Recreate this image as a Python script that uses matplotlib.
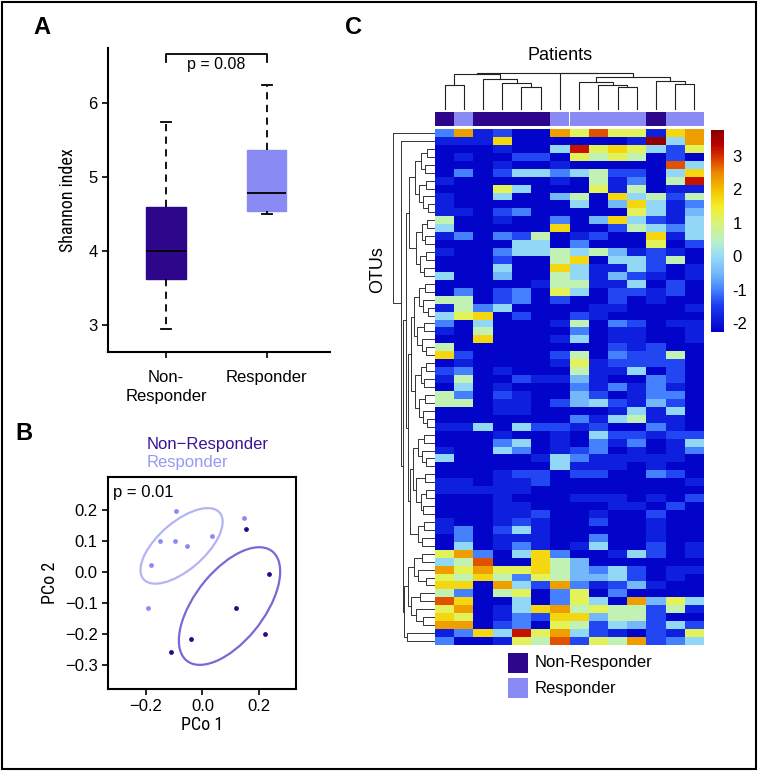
import numpy as np
import matplotlib
matplotlib.use("Agg")
import matplotlib.pyplot as plt
from matplotlib.colors import LinearSegmentedColormap
from matplotlib.patches import Rectangle, Ellipse
from matplotlib.cm import ScalarMappable
from matplotlib.colors import Normalize
from matplotlib import font_manager

plt.rcParams['font.family'] = ['Liberation Sans', 'DejaVu Sans']

# a condensed face for the axis titles, if one is installed
names = {f.name for f in font_manager.fontManager.ttflist}
NARROW = [n for n in ['Liberation Sans Narrow', 'DejaVu Sans Condensed', 'Roboto Condensed'] if n in names]
NARROW = NARROW + ['DejaVu Sans']

W, H = 760, 771
NR_COL = '#2d068c'
R_COL = '#8a8af5'

# ---- panel A data (Shannon index boxplot)
groups = ['Non-\nResponder', 'Responder']
box_stats = {
    'whislo': [2.95, 4.505],
    'q1':     [3.62, 4.54],
    'med':    [4.00, 4.78],
    'q3':     [4.59, 5.36],
    'whishi': [5.74, 6.235],
}
p_box = 'p = 0.08'

# ---- panel B data (PCoA)
resp_x = [-0.095, -0.150, -0.097, -0.054, 0.035, -0.183, -0.194, 0.146]
resp_y = [0.195, 0.099, 0.098, 0.082, 0.115, 0.023, -0.116, 0.174]
nonresp_x = [0.153, 0.236, 0.120, 0.222, -0.041, -0.113]
nonresp_y = [0.137, -0.006, -0.118, -0.199, -0.217, -0.259]
p_pcoa = 'p = 0.01'

# ---- panel C data (heatmap, z-scores coded by colour level)
levels = {'D': -2.2, 'B': -1.85, 'b': -1.4, 'm': -1.0, 'l': -0.5, 'c': -0.05,
          'g': 0.6, 'y': 1.2, 'Y': 1.75, 'o': 2.3, 'O': 2.8, 'r': 3.2, 'R': 3.7}
otu_rows = [
    "moBbDDoyOyyBYo", "BBBYDDDDDDBRco", "DDDBDDcryYycby", "DBDDbbDygygDbD",
    "DDDBDDBDDDDDOc", "DmDbccmcgbbDcY", "BDDDDDBDgBmDgr", "DDDycDDDyBgDBB",
    "BDDcDDlgDYcgbg", "BDDDDDDcDlYcBm", "BBDbmDDDDDycBl", "gDDBDDmDlYcbBc",
    "cDDDDDYDDbgcmc", "BmDmbgDBbDDYBc", "DDDDccDmDDDyDb", "BDDmccgcglBbBD",
    "DDDbDDgYDccbgD", "DDDcDDYcBBcbDB", "cDDlDDgcBlbBDB", "DDDDDBggBBcDbD",
    "DmDbmDycDbbBbD", "ggDbmDbDDbDBDD", "BgmcDDDDBBDDDB", "cyYDbDDbBDDDDD",
    "mDcDDDBgDmbDBB", "BDgDDDDmDBBDDB", "DDYDDDBcDBBDDB", "gDDDDDDDDbBbDD",
    "YbDDDDbgDmbbgD", "DBDDDDByBbbbbD", "bmDBDDDgBBcDbD", "BgDDbBBlBDDmbD",
    "DcDBDDDmBmBmBD", "gmDbBDDlbDBmmD", "ggDBBDblcbBlbD", "DDDBBDDDDBcBcD",
    "DDDDDDDmBcgBBD", "BBcDcbbBbDDmBD", "DDDBDDBDcbbBbb", "DDDmcDBDmBmDBc",
    "BDDcmDBbmDBDBm", "cDDDDBcmBBBBBD", "DDDDDDcBBBDBDD", "DDDBbbDbbDDmbD",
    "BBDBBbDDDDDDDB", "BBBBBDDDDDDDDD", "DDDBDDDBBBDBDb", "DDDBBDDDDBBDbD",
    "DDDBBbDDBDDbDD", "BDDBbBDDbDDBDD", "BmDbcBDDDDDBDD", "DmDBBBDDmDDBDD",
    "DcDBmBDBcDDbDB", "yomDcYmDDBcbDB", "cgODDYglDDDDDD", "oyoyyYglmcbDBB",
    "ygYgmygllcbDBD", "YYDocbomBblBDD", "gmDgyDmyDmDDDD", "OYDDcDmycDolyc",
    "yoDBcYogyggbgB", "YyDBmbYYlggbDD", "ooDbmDygbclbcb", "BmYcryocbBDbBy",
    "mDDBygObygobmc",
]
patient_group = ['NR', 'R', 'NR', 'NR', 'NR', 'NR', 'R', 'R', 'R', 'R', 'R', 'NR', 'R', 'R']

# dendrograms: (height, left, right), leaves are indices
col_tree = (37.3, (36.0, (25.0, 0, 1), (30.7, 2, (27.3, 3, (22.7, 4, 5)))),
            (36.7, 6, (33.3, (28.3, 7, (25.0, 8, (22.7, 9, 10))), (29.0, 11, (25.7, 12, 13)))))

t_a = (20, (14, (8, 2, 3), (10, 4, 5)), (16, (9, 6, 7), (12, 8, (7, 9, 10))))
t_b = (19, (13, (8, 11, 12), (10, 13, 14)), (15, (9, 15, 16), (11, 17, 18)))
t_c = (21, (16, (10, 19, 20), (12, 21, (7, 22, 23))), (18, (11, 24, 25), (13, 26, (9, 27, 28))))
t_d = (20, (14, (9, 29, 30), (11, 31, 32)), (16, (10, 33, 34), (12, 35, (8, 36, 37))))
t_e = (22, (17, (11, 38, 39), (13, 40, (9, 41, 42))), (19, (10, 43, 44), (14, (9, 45, 46), (12, 47, 48))))
t_f = (17, (11, 49, 50), (13, 51, 52))
top_block = (29, (26, t_a, t_b), (27, (24, t_c, t_d), (25, t_e, t_f)))
bot_block = (31, (27, (21, (13, 53, 54), (17, 55, (9, 56, 57))),
                  (24, (15, 58, 59), (19, 60, (12, 61, 62)))), (28, 63, 64))
row_tree = (42, 0, (34.5, 1, (32, top_block, bot_block)))


def rect(l, t, r, b):
    return [l / W, 1 - b / H, (r - l) / W, (b - t) / H]


fig = plt.figure(figsize=(W / 100, H / 100), dpi=100)
fig.patches.append(Rectangle((0.002, 0.002), 0.993, 0.995, transform=fig.transFigure,
                             fill=False, lw=1.5, ec='black'))

# ============ A
ax = fig.add_axes(rect(108, 48, 330, 351.7))
stats = []
for i in range(2):
    stats.append({k: box_stats[k][i] for k in box_stats})
bp = ax.bxp(stats, positions=[1, 2], widths=0.394, patch_artist=True, showfliers=False,
            capwidths=[0.1, 0.1],
            whiskerprops=dict(ls=(0, (4, 3)), lw=1.3, color='black'),
            capprops=dict(lw=1.3, color='black'),
            medianprops=dict(lw=1.3, color='black'))
for patch, c in zip(bp['boxes'], [NR_COL, R_COL]):
    patch.set_facecolor(c)
    patch.set_edgecolor(c)
ax.set_xlim(0.424, 2.63)
ax.set_ylim(2.64, 6.74)
ax.set_yticks([3, 4, 5, 6])
ax.set_xticks([1, 2])
ax.set_xticklabels(groups, fontsize=11.5, linespacing=1.3)
ax.tick_params(labelsize=12, length=4.5, width=1.2, pad=3)
ax.tick_params(axis='x', pad=9)
for s in ['top', 'right']:
    ax.spines[s].set_visible(False)
for s in ['left', 'bottom']:
    ax.spines[s].set_linewidth(1.5)
ax.plot([1, 1, 2, 2], [6.554, 6.654, 6.654, 6.554], color='black', lw=1.3)
ax.text(1.5, 6.523, p_box, ha='center', va='center', fontsize=11.5)
ax.set_ylabel('Shannon index', family=NARROW, fontstretch='condensed', fontsize=13, labelpad=8)
fig.text(33 / W, 1 - 28 / H, 'A', fontsize=17, weight='bold', va='center')

# ============ B
bx = fig.add_axes(rect(108, 476.7, 295.7, 689))
for xs, ys, c, ec in [(resp_x, resp_y, R_COL, '#b4b4f4'), (nonresp_x, nonresp_y, NR_COL, '#7e66d6')]:
    pts = np.array([xs, ys])
    cov = np.cov(pts)
    vals, vecs = np.linalg.eigh(cov)
    ang = np.degrees(np.arctan2(vecs[1, 1], vecs[0, 1]))
    k = 1.26
    bx.add_patch(Ellipse((np.mean(xs), np.mean(ys)), 2 * k * np.sqrt(vals[1]), 2 * k * np.sqrt(vals[0]),
                         angle=ang, fill=False, ec=ec, lw=1.6))
    bx.scatter(xs, ys, s=12, color=c, zorder=3, lw=0)
bx.set_xlim(-0.335, 0.331)
bx.set_ylim(-0.378, 0.307)
bx.set_xticks([-0.2, 0.0, 0.2])
bx.set_yticks([-0.3, -0.2, -0.1, 0.0, 0.1, 0.2])
bx.set_yticklabels(['\u22120.3', '\u22120.2', '\u22120.1', '0.0', '0.1', '0.2'])
bx.set_xticklabels(['\u22120.2', '0.0', '0.2'])
bx.tick_params(labelsize=12, length=4.5, width=1.2, pad=3)
for s in bx.spines.values():
    s.set_linewidth(1.5)
bx.text(0.028, 0.925, p_pcoa, transform=bx.transAxes, fontsize=12, va='center')
bx.set_ylabel('PCo 2', family=NARROW, fontstretch='condensed', fontsize=13, labelpad=4)
bx.set_xlabel('PCo 1', family=NARROW, fontstretch='condensed', fontsize=13, labelpad=1)
fig.text(15 / W, 1 - 434 / H, 'B', fontsize=17, weight='bold', va='center')
fig.text(147 / W, 1 - 445 / H, 'Non\u2212Responder', color='#3a1496', fontsize=12, va='center')
fig.text(147 / W, 1 - 463 / H, 'Responder', color='#9898f4', fontsize=12, va='center')

# ============ C
cmap = LinearSegmentedColormap.from_list('otu', [
    (0.0, '#0000c8'), (0.13, '#1c3cf0'), (0.21, '#4682ff'), (0.29, '#74b8fa'),
    (0.375, '#96dcf5'), (0.45, '#b8f0c8'), (0.54, '#d8f47a'), (0.62, '#f4ee2a'),
    (0.70, '#f4c400'), (0.79, '#ec8800'), (0.87, '#d83000'), (0.93, '#b80000'),
    (1.0, '#880000')])
vmin, vmax = -2.27, 3.78
mat = np.array([[levels[ch] for ch in row] for row in otu_rows])

hx = fig.add_axes(rect(435, 129, 704, 645))
hx.pcolormesh(np.arange(mat.shape[1] + 1) - 0.5, np.arange(mat.shape[0] + 1) - 0.5, mat,
              cmap=cmap, vmin=vmin, vmax=vmax)
hx.set_ylim(mat.shape[0] - 0.5, -0.5)
hx.set_xlim(-0.5, mat.shape[1] - 0.5)
hx.axis('off')

# annotation bar
gx = fig.add_axes(rect(435, 112.3, 704, 126))
for i, g in enumerate(patient_group):
    gx.add_patch(Rectangle((i - 0.5, 0), 1, 1, color=NR_COL if g == 'NR' else R_COL, lw=0))
gx.set_xlim(-0.5, 13.5)
gx.set_ylim(0, 1)
gx.axis('off')


def dendro(ax, node, orient):
    if isinstance(node, int):
        return node, 0
    h, l, r = node
    pl, hl = dendro(ax, l, orient)
    pr, hr = dendro(ax, r, orient)
    if orient == 'top':
        ax.plot([pl, pl, pr, pr], [hl, h, h, hr], color='#222222', lw=0.8)
    else:
        ax.plot([hl, h, h, hr], [pl, pl, pr, pr], color='#333333', lw=0.7)
    return (pl + pr) / 2, h


dx = fig.add_axes(rect(435, 70, 704, 110))
dendro(dx, col_tree, 'top')
dx.set_xlim(-0.5, 13.5)
dx.set_ylim(0, 40)
dx.axis('off')

rx = fig.add_axes(rect(390, 129, 435, 645))
dendro(rx, row_tree, 'left')
rx.set_ylim(mat.shape[0] - 0.5, -0.5)
rx.set_xlim(45, 0)
rx.axis('off')

fig.text(560 / W, 1 - 56 / H, 'Patients', fontsize=13, ha='center', va='center')
fig.text(378 / W, 1 - 270 / H, 'OTUs', fontsize=13, ha='center', va='center', rotation=90)
fig.text(345 / W, 1 - 27 / H, 'C', fontsize=17, weight='bold', va='center')

cx = fig.add_axes(rect(711, 130, 724, 332))
cb = fig.colorbar(ScalarMappable(Normalize(vmin, vmax), cmap), cax=cx, ticks=[-2, -1, 0, 1, 2, 3])
cb.outline.set_visible(False)
cb.ax.set_yticklabels(['-2', '-1', '0', '1', '2', '3'])
cb.ax.tick_params(length=0, labelsize=12, pad=6)

# legend
for j, (lab, c) in enumerate([('Non-Responder', NR_COL), ('Responder', R_COL)]):
    y0 = 653 + j * 25
    fig.patches.append(Rectangle((508 / W, 1 - (y0 + 20) / H), 20 / W, 20 / H,
                                 transform=fig.transFigure, color=c, lw=0))
    fig.text(535 / W, 1 - (y0 + 10) / H, lab, fontsize=12, va='center')

fig.savefig('out.png', dpi=100)
